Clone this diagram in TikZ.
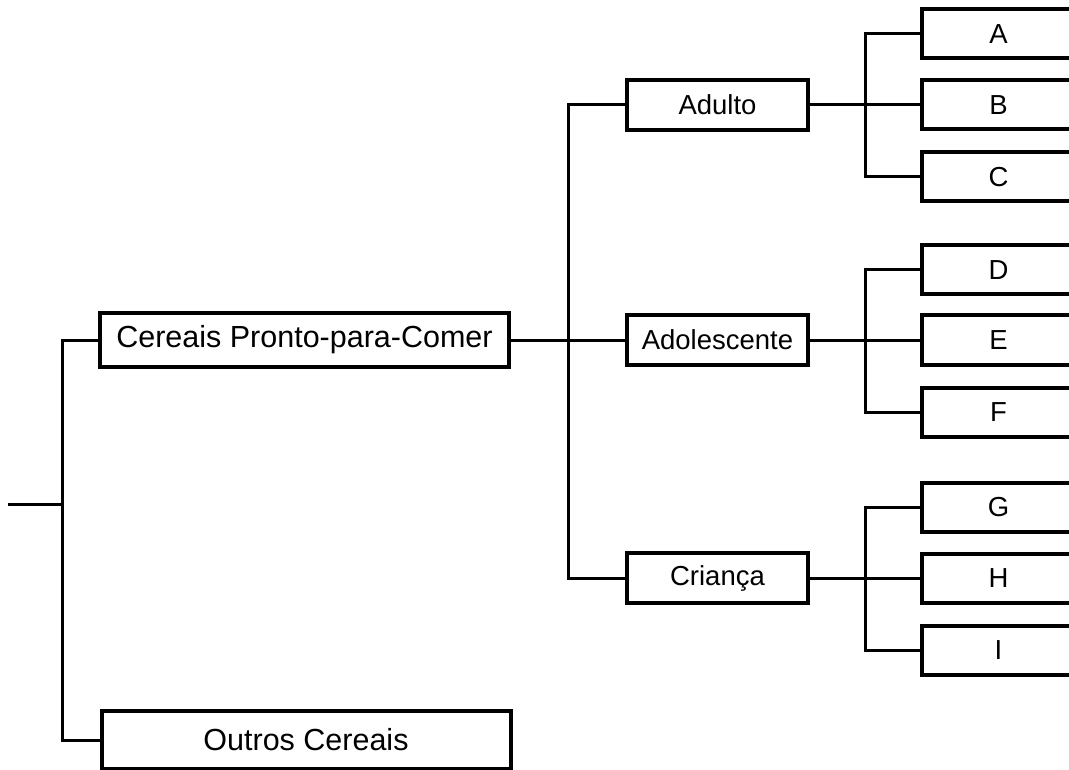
\documentclass[tikz,border=0pt]{standalone}
\usepackage{fontspec}
\setmainfont{Liberation Sans}

\begin{document}
\begin{tikzpicture}[x=1pt,y=-1pt,
  box/.style={draw,line width=4pt,fill=white,inner sep=0pt},
  topbox/.style={box,minimum width=409pt,minimum height=54pt,font=\fontsize{30.5}{36}\selectfont},
  midbox/.style={box,minimum width=181pt,minimum height=50pt,font=\fontsize{27.5}{33}\selectfont},
  leafbox/.style={box,minimum width=153pt,minimum height=49pt,font=\fontsize{27.5}{33}\selectfont},
  link/.style={line width=3pt}]

\clip (0,0) rectangle (1069,770);
\fill[white] (0,0) rectangle (1069,770);

% first level
\coordinate (root) at (8,504);
\coordinate (trunk) at (62,504);
\node[topbox] (cereais) at (304.5,340) {Cereais Pronto-para-Comer};
\node[topbox,minimum height=58pt] (outros) at (306,740) {Outros Cereais};

% second level
\node[midbox] (adulto)  at (717.5,105) {Adulto};
\node[midbox] (adolesc) at (717.5,340) {Adolescente};
\node[midbox] (crianca) at (717.5,578) {Criança};

% third level
\foreach \l/\y in {A/34,B/105,C/177,D/270,E/340,F/412,G/507,H/578,I/650} {
  \node[leafbox] (\l) at (998.5,\y) {\l};
}

% connectors
\draw[link] (root) -- (trunk);
\draw[link] (cereais.west) -| (trunk) |- (outros.west);

\path (cereais.east) -- coordinate[midway] (split) (adolesc.west);
\draw[link] (cereais.east) -- (adolesc.west);
\draw[link] (adulto.west) -| (split) |- (crianca.west);

\foreach \p/\u/\m/\d in {adulto/A/B/C, adolesc/D/E/F, crianca/G/H/I} {
  \path (\p.east) -- coordinate[midway] (\p-split) (\m.west);
  \draw[link] (\p.east) -- (\m.west);
  \draw[link] (\u.west) -| (\p-split) |- (\d.west);
}

\end{tikzpicture}
\end{document}
